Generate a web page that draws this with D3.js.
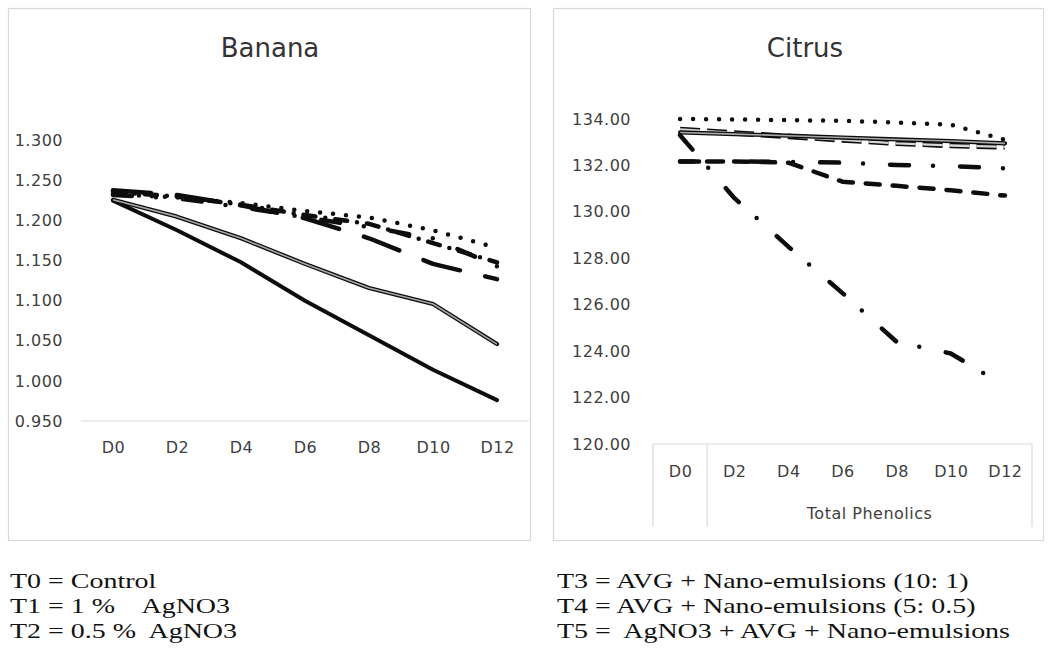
<!DOCTYPE html>
<html>
<head>
<meta charset="utf-8">
<script src="https://cdn.jsdelivr.net/npm/d3@7"></script>
<style>
  html, body { margin: 0; padding: 0; background: #fff; }
  svg { display: block; }
  .tick text { fill: #404040; }
</style>
</head>
<body>
<svg id="fig" width="1049" height="658"></svg>
<script>
// Sampling days (x categories)
const days = ["D0", "D2", "D4", "D6", "D8", "D10", "D12"];
const treatments = ["T0", "T1", "T2", "T3", "T4", "T5"];

// Banana values per treatment
const bananaT0 = [1.225, 1.188, 1.148, 1.100, 1.057, 1.014, 0.976];
const bananaT1 = [1.226, 1.205, 1.178, 1.146, 1.116, 1.096, 1.046];
const bananaT2 = [1.233, 1.229, 1.222, 1.212, 1.204, 1.188, 1.166];
const bananaT3 = [1.238, 1.232, 1.219, 1.203, 1.178, 1.146, 1.127];
const bananaT4 = [1.236, 1.230, 1.220, 1.207, 1.196, 1.172, 1.148];
const bananaT5 = [1.232, 1.228, 1.217, 1.204, 1.192, 1.178, 1.143];

// Citrus (total phenolics) values per treatment
const citrusT0 = [133.55, 133.40, 133.25, 133.10, 132.95, 132.86, 132.80];
const citrusT1 = [133.42, 133.35, 133.28, 133.20, 133.12, 133.05, 132.95];
const citrusT2 = [134.00, 133.98, 133.95, 133.92, 133.85, 133.76, 133.10];
const citrusT3 = [132.17, 132.17, 132.12, 131.30, 131.12, 130.93, 130.70];
const citrusT4 = [133.30, 130.60, 128.50, 126.50, 124.40, 123.90, 122.50];
const citrusT5 = [132.17, 132.17, 132.15, 132.12, 132.02, 131.97, 131.88];

// Axis ticks
const bananaTicks = [0.95, 1.0, 1.05, 1.1, 1.15, 1.2, 1.25, 1.3];
const citrusTicks = [120, 122, 124, 126, 128, 130, 132, 134];
const citrusGroupLabel = "Total Phenolics";

// Treatment key printed below the charts
const legendLeft = ["T0 = Control", "T1 = 1 %    AgNO3", "T2 = 0.5 %  AgNO3"];
const legendRight = ["T3 = AVG + Nano-emulsions (10: 1)",
                     "T4 = AVG + Nano-emulsions (5: 0.5)",
                     "T5 =  AgNO3 + AVG + Nano-emulsions"];

// Line appearance per drawing style
const strokeStyles = {
  solid:       { w: 4,   dash: null,          cap: "round" },
  double:      { w: 4.2, dash: null,          cap: "round", inner: 1.6, innerColor: "#a8a8a8" },
  doubleDash:  { w: 5.5, dash: "20 7",        cap: "butt",  inner: 2.4, innerColor: "#d8d8d8" },
  dot:         { w: 4.5, dash: "0 13",        cap: "round" },
  dash:        { w: 4.5, dash: "14 13",       cap: "round" },
  longDash:    { w: 4.5, dash: "38 26",       cap: "round" },
  dashDot:     { w: 4.5, dash: "12 10 0 10",  cap: "round" },
  longDashDot: { w: 4.5, dash: "19 24 0 27",  cap: "round" }
};

const bananaSeries = [bananaT0, bananaT1, bananaT2, bananaT3, bananaT4, bananaT5];
const bananaStyles = ["solid", "double", "dot", "longDash", "dashDot", "longDashDot"];
const citrusSeries = [citrusT0, citrusT1, citrusT2, citrusT3, citrusT4, citrusT5];
const citrusStyles = ["doubleDash", "double", "dot", "dash", "longDashDot", "longDashDot"];

const svg = d3.select("#fig");
const FONT = "'DejaVu Sans', Verdana, sans-serif";

function drawLines(g, series, styles, x, y) {
  const line = d3.line().x((d, i) => x(days[i])).y(d => y(d));
  series.forEach((vals, k) => {
    const s = strokeStyles[styles[k]];
    const p = g.append("path")
      .datum(vals)
      .attr("class", "series " + treatments[k])
      .attr("d", line)
      .attr("fill", "none")
      .attr("stroke", "#0d0d0d")
      .attr("stroke-width", s.w)
      .attr("stroke-linecap", s.cap)
      .attr("stroke-linejoin", "round");
    if (s.dash) p.attr("stroke-dasharray", s.dash);
    if (s.inner) {
      const q = g.append("path")
        .datum(vals)
        .attr("d", line)
        .attr("fill", "none")
        .attr("stroke", s.innerColor)
        .attr("stroke-width", s.inner)
        .attr("stroke-linejoin", "round");
      if (s.dash) q.attr("stroke-dasharray", s.dash);
    }
  });
}

// ---------- Banana ----------
{
  const frame = { x: 8.5, y: 8.5, w: 522, h: 532 };
  svg.append("rect").attr("x", frame.x).attr("y", frame.y)
    .attr("width", frame.w).attr("height", frame.h)
    .attr("fill", "#fff").attr("stroke", "#d9d9d9").attr("stroke-width", 1.2);

  const left = 81, right = 529, top = 140.5, bottom = 421;
  const x = d3.scalePoint().domain(days).range([left, right]).padding(0.5);
  const y = d3.scaleLinear().domain([0.95, 1.3]).range([bottom, top]);

  svg.append("text").attr("x", 270).attr("y", 57)
    .attr("text-anchor", "middle").attr("font-family", FONT)
    .attr("font-size", 26).attr("fill", "#333").text("Banana");

  const ya = svg.append("g").attr("transform", `translate(63,0)`)
    .call(d3.axisLeft(y).tickValues(bananaTicks).tickFormat(d3.format(".3f")).tickSize(0).tickPadding(0));
  ya.select(".domain").remove();
  ya.selectAll("text").attr("font-family", FONT).attr("font-size", 16).attr("letter-spacing", 0.5);

  const xa = svg.append("g").attr("transform", `translate(0,${bottom})`)
    .call(d3.axisBottom(x).tickSize(0).tickSizeOuter(0).tickPadding(21));
  xa.select(".domain").attr("stroke", "#d9d9d9").attr("stroke-width", 1.2)
    .attr("d", `M${left},0H${right}`);
  xa.selectAll("text").attr("font-family", FONT).attr("font-size", 16).attr("letter-spacing", 0.5);

  drawLines(svg.append("g"), bananaSeries, bananaStyles, x, y);
}

// ---------- Citrus ----------
{
  const frame = { x: 553.5, y: 8.5, w: 490, h: 532 };
  svg.append("rect").attr("x", frame.x).attr("y", frame.y)
    .attr("width", frame.w).attr("height", frame.h)
    .attr("fill", "#fff").attr("stroke", "#d9d9d9").attr("stroke-width", 1.2);

  const left = 653, right = 1032, top = 119, bottom = 444;
  const x = d3.scalePoint().domain(days).range([left, right]).padding(0.5);
  const y = d3.scaleLinear().domain([120, 134]).range([bottom, top]);

  svg.append("text").attr("x", 805).attr("y", 57)
    .attr("text-anchor", "middle").attr("font-family", FONT)
    .attr("font-size", 26).attr("fill", "#333").text("Citrus");

  const ya = svg.append("g").attr("transform", `translate(631,0)`)
    .call(d3.axisLeft(y).tickValues(citrusTicks).tickFormat(d3.format(".2f")).tickSize(0).tickPadding(0));
  ya.select(".domain").remove();
  ya.selectAll("text").attr("font-family", FONT).attr("font-size", 16).attr("letter-spacing", 0.5);

  // Two-level category axis: day labels, with D2..D12 grouped under the measure
  const boxBottom = 527;
  const xa = svg.append("g").attr("transform", `translate(0,${bottom})`)
    .call(d3.axisBottom(x).tickSize(0).tickSizeOuter(0).tickPadding(22));
  xa.select(".domain").attr("stroke", "#d9d9d9").attr("stroke-width", 1.2)
    .attr("d", `M${left},0H${right}`);
  xa.selectAll("text").attr("font-family", FONT).attr("font-size", 16).attr("letter-spacing", 0.5);

  const step = x.step();
  const groupStart = x(days[1]) - step / 2;
  [left, groupStart, right].forEach(px => {
    svg.append("line").attr("x1", px).attr("x2", px)
      .attr("y1", bottom).attr("y2", boxBottom)
      .attr("stroke", "#d9d9d9").attr("stroke-width", 1.2);
  });
  svg.append("text")
    .attr("x", (groupStart + right) / 2).attr("y", 519)
    .attr("text-anchor", "middle").attr("font-family", FONT)
    .attr("font-size", 16).attr("letter-spacing", 0.5).attr("fill", "#404040")
    .text(citrusGroupLabel);

  drawLines(svg.append("g"), citrusSeries, citrusStyles, x, y);
}

// ---------- Treatment key ----------
// Tall serif rows set tightly; each row is widened by one common factor so the
// longest row spans from the right column start to x = 1010.
const SERIF = "'Liberation Serif', 'Times New Roman', serif";
const keyRows = [];
[[legendLeft, 10], [legendRight, 557]].forEach(([rows, lx]) => {
  rows.forEach((t, i) => {
    keyRows.push(svg.append("text")
      .attr("x", lx).attr("y", 588 + i * 25)
      .attr("font-family", SERIF).attr("font-size", 22)
      .attr("fill", "#111")
      .style("white-space", "pre")
      .text(t));
  });
});
const longest = keyRows[keyRows.length - 1];
const widen = (1010 - 557) / longest.node().getComputedTextLength();
keyRows.forEach(r => {
  const n = r.node().getComputedTextLength();
  r.attr("textLength", n * widen).attr("lengthAdjust", "spacingAndGlyphs");
});
</script>
</body>
</html>
